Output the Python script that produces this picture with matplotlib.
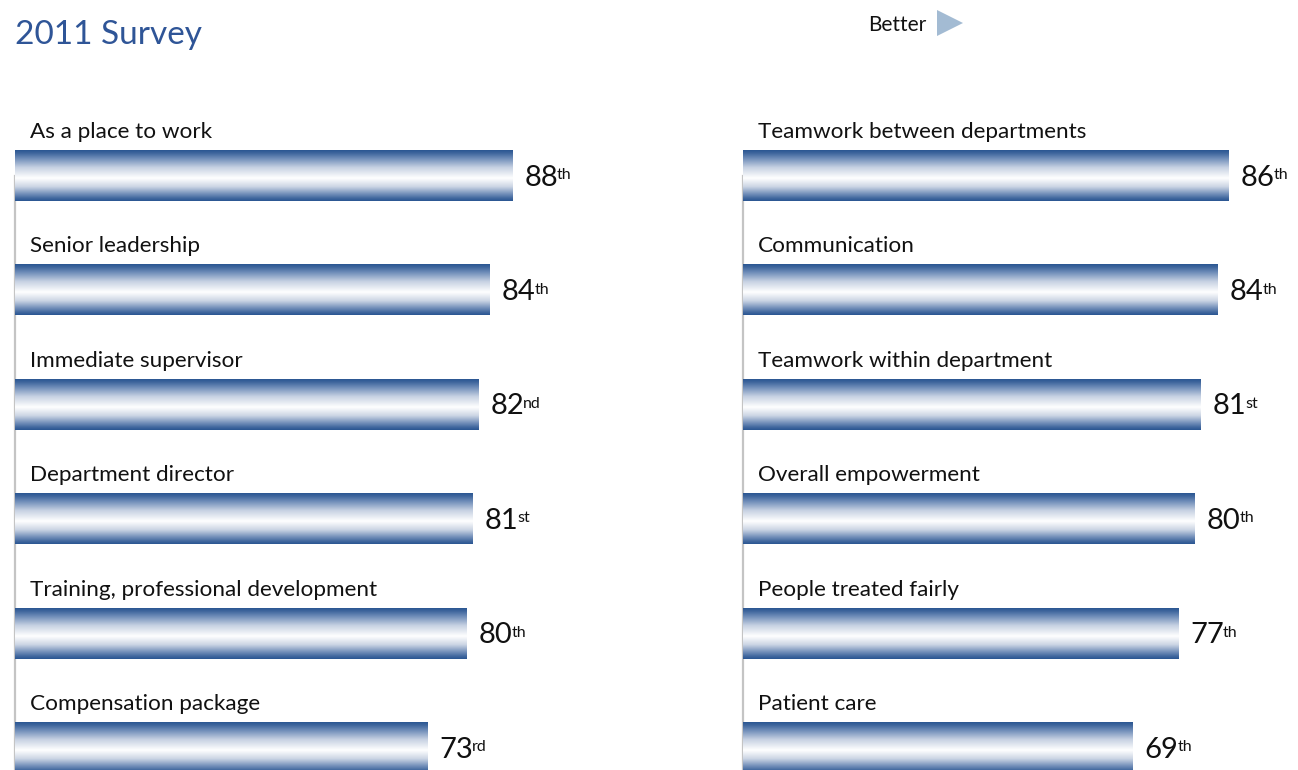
import matplotlib
matplotlib.use("Agg")
import matplotlib.pyplot as plt
import numpy as np
from matplotlib.colors import LinearSegmentedColormap
from matplotlib.patches import Polygon

plt.rcParams['font.family'] = ['Lato', 'DejaVu Sans']

left_categories = ["As a place to work", "Senior leadership", "Immediate supervisor",
                   "Department director", "Training, professional development",
                   "Compensation package"]
left_values = [88, 84, 82, 81, 80, 73]
left_suffix = ["th", "th", "nd", "st", "th", "rd"]

right_categories = ["Teamwork between departments", "Communication",
                    "Teamwork within department", "Overall empowerment",
                    "People treated fairly", "Patient care"]
right_values = [86, 84, 81, 80, 77, 69]
right_suffix = ["th", "th", "st", "th", "th", "th"]

W, H = 1298, 770
fig = plt.figure(figsize=(W / 100, H / 100), dpi=100)

dark = "#2A5692"
title_color = "#2F5597"
cmap = LinearSegmentedColormap.from_list(
    "bar", [(0.0, dark), (0.06, "#3F669D"), (0.16, "#6E8CB8"), (0.34, "#C6D1E2"),
            (0.55, "#FFFFFF"), (0.72, "#CBD5E4"), (0.86, "#7490BA"),
            (0.95, "#3F669D"), (1.0, dark)])
grad = np.linspace(0, 1, 256).reshape(-1, 1)

pitch = 114.4
first_center = 175.5
top_px = 100
xmax = 95
scale = 5.65
ylim = ((H - first_center) / pitch, (top_px - first_center) / pitch)
bar_h = 51 / pitch


def panel(x0_px, cats, vals, sufs):
    width_px = xmax * scale
    ax = fig.add_axes([x0_px / W, 0, width_px / W, (H - top_px) / H])
    y = np.arange(len(cats))
    bars = ax.barh(y, vals, height=bar_h, color="none", edgecolor="none", zorder=3)
    ax.plot([0, 0], [0, ylim[0]], color="#C4C4C4", lw=1.6, zorder=1, clip_on=False)
    for b, cat, v, s in zip(bars, cats, vals, sufs):
        bx, by, bw, bh = b.get_x(), b.get_y(), b.get_width(), b.get_height()
        im = ax.imshow(grad, cmap=cmap, extent=[bx, bx + bw, by + bh, by],
                       aspect="auto", zorder=2, interpolation="bilinear")
        im.set_clip_path(b)
        ax.annotate(cat, xy=(0, by), xytext=(15, 12), textcoords="offset pixels",
                    ha="left", va="baseline", fontsize=16.2, color="#111111")
        num = ax.annotate(str(v), xy=(bx + bw, by + bh / 2), xytext=(12, -2),
                          textcoords="offset pixels", ha="left", va="center",
                          fontsize=21, color="#111111")
        ax.annotate(s, xy=(1, 0.86), xycoords=num, xytext=(-1, 0),
                    textcoords="offset pixels", ha="left", va="top",
                    fontsize=11.5, color="#111111")
    ax.set_xlim(0, xmax)
    ax.set_ylim(*ylim)
    ax.axis("off")
    return ax


panel(15, left_categories, left_values, left_suffix)
panel(743, right_categories, right_values, right_suffix)

fig.text(15 / W, 1 - 44 / H, "2011 Survey", fontsize=24, color=title_color,
         ha="left", va="baseline")
fig.text(926 / W, 1 - 31 / H, "Better", fontsize=15, color="#111111",
         ha="right", va="baseline")
tri = Polygon([[937 / W, 1 - 10 / H], [937 / W, 1 - 36 / H], [963 / W, 1 - 23 / H]],
              closed=True, transform=fig.transFigure, facecolor="#A3BBD3",
              edgecolor="none")
fig.patches.append(tri)

fig.savefig("out.png", dpi=100)
